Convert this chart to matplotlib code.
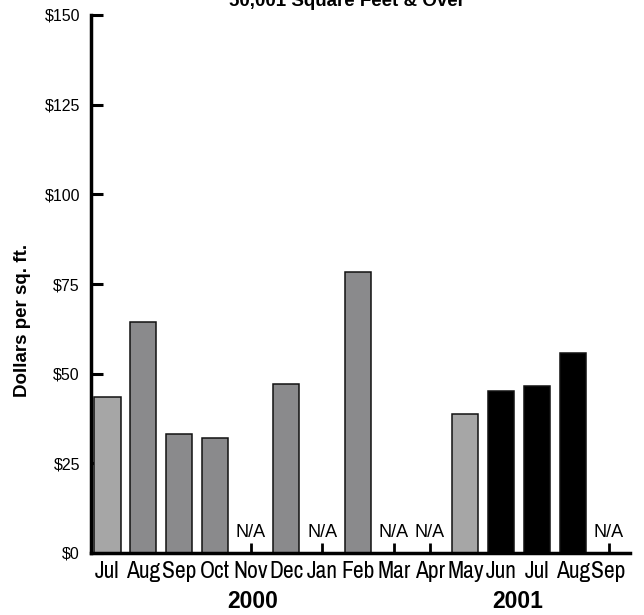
import matplotlib
matplotlib.use("Agg")
import matplotlib.pyplot as plt
from matplotlib import font_manager

months = ["Jul", "Aug", "Sep", "Oct", "Nov", "Dec", "Jan", "Feb", "Mar", "Apr",
          "May", "Jun", "Jul", "Aug", "Sep"]
values = [43.6, 64.5, 33.2, 32.1, None, 47.1, None, 78.4, None, None,
          38.8, 45.3, 46.6, 55.9, None]
colors = ["#a6a6a6", "#8a8a8c", "#8a8a8c", "#8a8a8c", "#8a8a8c", "#8a8a8c", "#8a8a8c",
          "#8a8a8c", "#8a8a8c", "#8a8a8c", "#a6a6a6", "#000000", "#000000", "#000000", "#000000"]
yticks = [0, 25, 50, 75, 100, 125, 150]
ytick_labels = ["$0", "$25", "$50", "$75", "$100", "$125", "$150"]
years = ["2000", "2001"]
year_pos = [4.05, 11.45]
title = "50,001 Square Feet & Over"
ylabel = "Dollars per sq. ft."

names = {f.name for f in font_manager.fontManager.ttflist}
narrow = "Liberation Sans"
for cand in ["Liberation Sans Narrow", "Archivo Narrow", "Roboto Condensed", "PT Sans Narrow"]:
    if cand in names:
        narrow = cand
        break
plt.rcParams["font.family"] = ["Liberation Sans", "DejaVu Sans"]

W, H = 644, 615
fig = plt.figure(figsize=(W / 100, H / 100), dpi=100)
ax = fig.add_axes([91 / W, 1 - 553 / H, (630 - 91) / W, (553 - 15) / H])

x = list(range(len(months)))
for i, (v, c) in enumerate(zip(values, colors)):
    if v is None:
        ax.text(i, 4.5, "N/A", ha="center", va="baseline", fontsize=13)
    else:
        ax.bar(i, v, width=0.73, color=c, edgecolor="#111111", linewidth=1.1, zorder=2)

ax.set_xlim(-0.46, 14.6)
ax.set_ylim(0, 150)
ax.set_yticks(yticks)
ax.set_yticklabels(ytick_labels, fontsize=11.5)
ax.set_xticks(x)
ax.set_xticklabels(months, fontsize=17, family=[narrow, "DejaVu Sans"])
ax.tick_params(axis="y", direction="in", length=8.6, width=2.2, pad=8)
ax.tick_params(axis="x", direction="in", length=7.5, width=2.0, pad=6)
for s in ["top", "right"]:
    ax.spines[s].set_visible(False)
for s in ["left", "bottom"]:
    ax.spines[s].set_linewidth(2.5)

fig.text(23 / W, 1 - 320 / H, ylabel, rotation=90, ha="center", va="center",
         fontsize=13.5, fontweight="bold")
fig.text(347 / W, 1 - 6 / H, title, ha="center", va="baseline", fontsize=13.5, fontweight="bold")
for yr, p in zip(years, year_pos):
    ax.text(p, -0.09, yr, transform=ax.get_xaxis_transform(), ha="center", va="center",
            fontsize=16.5, fontweight="bold")

fig.savefig("out.png", dpi=100)
